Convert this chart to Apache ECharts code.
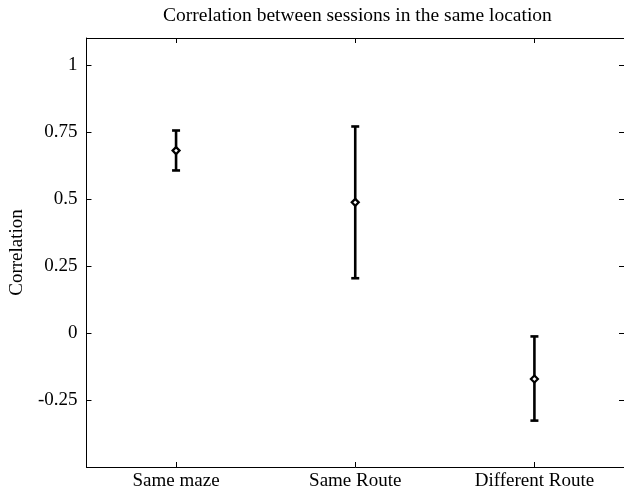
<!DOCTYPE html>
<html>
<head>
<meta charset="utf-8">
<script src="https://cdn.jsdelivr.net/npm/echarts@6/dist/echarts.min.js"></script>
<style>
html,body{margin:0;padding:0;background:#fff;}
#chart{width:624px;height:491px;}
</style>
</head>
<body>
<div id="chart"></div>
<script>
const categories = ['Same maze', 'Same Route', 'Different Route'];
const meanValues = [0.68, 0.487, -0.172];
const lowerValues = [0.606, 0.204, -0.327];
const upperValues = [0.755, 0.770, -0.013];
const yTickValues = [-0.25, 0, 0.25, 0.5, 0.75, 1];

const FONT = '"Liberation Serif", "Times New Roman", serif';
const errData = categories.map((c, i) => [i, lowerValues[i], upperValues[i], meanValues[i]]);

const chart = echarts.init(document.getElementById('chart'), null, {renderer: 'canvas'});
const yAxisCommon = {
  type: 'value', min: -0.5, max: 1.1, interval: 0.25,
  splitLine: {show: false},
  axisLine: {show: true, onZero: false, lineStyle: {color: '#000', width: 1}},
  axisTick: {show: true, inside: true, length: 5, lineStyle: {color: '#000'}}
};
chart.setOption({
  animation: false,
  backgroundColor: '#fff',
  title: {
    text: 'Correlation between sessions in the same location',
    left: 163, top: 6, padding: 0,
    textStyle: {fontFamily: FONT, fontSize: 19.5, fontWeight: 'normal', color: '#000'}
  },
  grid: {left: 79, top: 38, width: 547, height: 429, containLabel: false},
  xAxis: [{
    type: 'category', data: categories, boundaryGap: true,
    axisLine: {show: true, onZero: false, lineStyle: {color: '#000', width: 1}},
    axisTick: {show: true, inside: true, alignWithLabel: true, length: 5, lineStyle: {color: '#000'}},
    axisLabel: {fontFamily: FONT, fontSize: 19, color: '#000', margin: 5, interval: 0}
  }, {
    type: 'category', data: categories, boundaryGap: true, position: 'top',
    axisLine: {show: true, onZero: false, lineStyle: {color: '#000', width: 1}},
    axisTick: {show: true, inside: true, alignWithLabel: true, length: 5, lineStyle: {color: '#000'}},
    axisLabel: {show: false}
  }],
  yAxis: [Object.assign({}, yAxisCommon, {
    name: 'Correlation', nameLocation: 'middle', nameGap: 54,
    nameTextStyle: {fontFamily: FONT, fontSize: 19, color: '#000'},
    axisLabel: {
      fontFamily: FONT, fontSize: 19, color: '#000', margin: 9,
      showMaxLabel: false,
      formatter: v => yTickValues.some(t => Math.abs(t - v) < 1e-9) ? String(Math.round(v * 100) / 100) : ''
    }
  }), Object.assign({}, yAxisCommon, {position: 'right', axisLabel: {show: false}})],
  series: [{
    type: 'custom',
    data: errData,
    encode: {x: 0, y: [1, 2]},
    renderItem: function (params, api) {
      const xi = api.value(0);
      const lo = api.coord([xi, api.value(1)]);
      const hi = api.coord([xi, api.value(2)]);
      const mid = api.coord([xi, api.value(3)]);
      const cap = 4;
      const d = 3.5;
      const style = {stroke: '#000', lineWidth: 2.6, fill: null};
      return {
        type: 'group',
        children: [
          {type: 'line', shape: {x1: lo[0], y1: lo[1], x2: hi[0], y2: hi[1]}, style: style},
          {type: 'line', shape: {x1: hi[0] - cap, y1: hi[1], x2: hi[0] + cap, y2: hi[1]}, style: style},
          {type: 'line', shape: {x1: lo[0] - cap, y1: lo[1], x2: lo[0] + cap, y2: lo[1]}, style: style},
          {type: 'polygon', shape: {points: [[mid[0], mid[1] - d], [mid[0] + d, mid[1]], [mid[0], mid[1] + d], [mid[0] - d, mid[1]]]},
           style: {stroke: '#000', lineWidth: 2.2, fill: '#fff'}}
        ]
      };
    }
  }]
});
</script>
</body>
</html>
